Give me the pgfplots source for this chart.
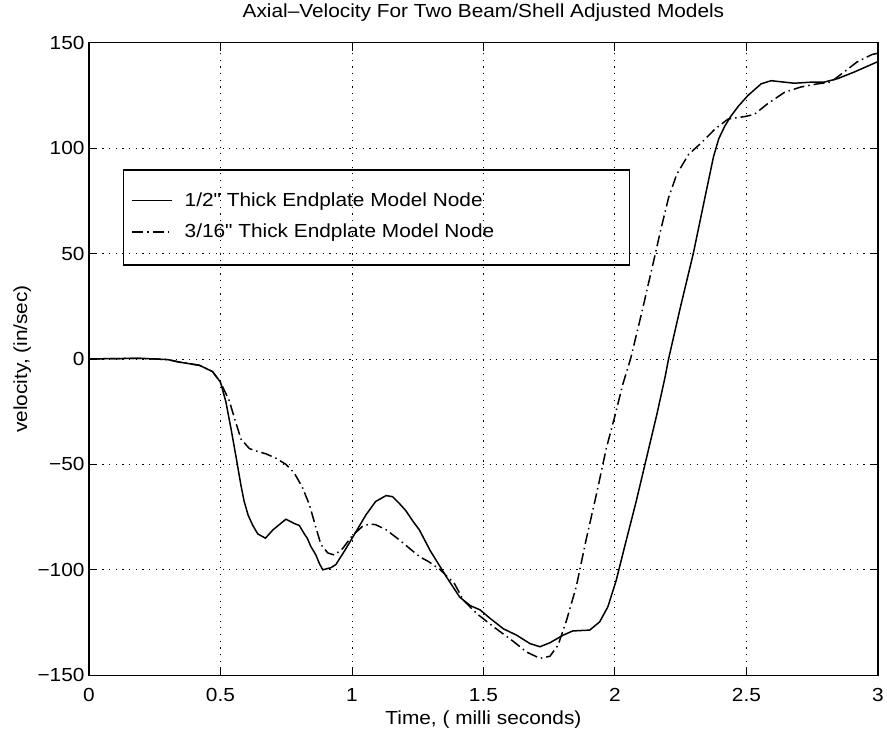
\documentclass[border=0pt]{standalone}
\usepackage{pgfplots}
\pgfplotsset{compat=1.18}
\usepackage{fontspec}
\setmainfont{Liberation Sans}[FakeStretch=1.1]
\newfontfamily\plainfont{Liberation Sans}[FakeStretch=1.1]

\pgfplotstableread{
x y
0 0
0.1 0.2
0.2 0.3
0.3 -0.3
0.344 -1.5
0.42 -3
0.47 -6
0.5 -11
0.52 -20
0.54 -33
0.56 -47
0.578 -60
0.59 -67.5
0.605 -74
0.623 -79
0.642 -83
0.671 -85
0.70 -81
0.749 -76
0.78 -78
0.80 -79
0.819 -83
0.83 -85
0.844 -89
0.863 -93
0.876 -97
0.889 -100
0.92 -99
0.939 -97.5
0.977 -90
1.015 -82
1.053 -74
1.09 -67.6
1.13 -64.8
1.154 -65.3
1.18 -68.5
1.205 -72
1.235 -77.5
1.256 -81
1.298 -91
1.36 -103.5
1.41 -113
1.45 -117
1.487 -119
1.525 -123
1.576 -128
1.626 -131
1.677 -135
1.715 -136.5
1.753 -134.6
1.803 -131
1.84 -129
1.904 -128.6
1.942 -124.7
1.973 -117.6
2.005 -105
2.037 -89
2.08 -68
2.12 -47
2.16 -26
2.19 -9
2.204 0
2.248 24
2.298 50
2.343 77
2.375 96
2.395 104.5
2.418 110.5
2.44 115
2.47 120
2.506 125
2.556 130.5
2.594 132
2.645 131.3
2.682 130.8
2.745 131.3
2.795 131.3
2.845 132.9
2.908 136
2.99 140.5
3.0 141
}\solid

\pgfplotstableread{
x y
0 0
0.1 0.2
0.2 0.3
0.3 -0.3
0.344 -1.5
0.42 -3
0.47 -6
0.5 -11
0.534 -20
0.553 -28
0.578 -38
0.61 -42.5
0.635 -43.6
0.673 -45
0.71 -47
0.749 -50
0.78 -54
0.81 -60.5
0.838 -69
0.863 -80
0.882 -88
0.908 -92
0.933 -93
0.964 -90
1.0 -84
1.04 -79.4
1.066 -78.3
1.09 -78.6
1.13 -81
1.18 -85.8
1.23 -91
1.26 -94
1.29 -96
1.336 -100
1.39 -106.6
1.424 -114.5
1.475 -120.8
1.538 -127
1.614 -134
1.664 -139
1.715 -142
1.753 -141
1.784 -135.7
1.816 -124
1.853 -108
1.89 -86
1.93 -64
1.967 -42.5
2.0 -27
2.03 -12
2.06 0.3
2.103 22.5
2.147 46.3
2.173 60.6
2.204 76.5
2.235 87.6
2.28 97
2.33 102.7
2.38 109
2.43 113.8
2.494 115
2.53 116
2.58 121
2.645 126.5
2.707 129
2.77 130.5
2.82 131.3
2.87 136
2.92 140.8
2.977 144.4
3.0 145
}\dashdot

\begin{document}
\begin{tikzpicture}[font=\fontsize{19}{22}\selectfont]
\begin{axis}[
  scale only axis, width=791.7pt, height=634.7pt,
  at={(0,0)}, anchor=south west,
  xmin=0, xmax=3, ymin=-150, ymax=150,
  xtick={0,0.5,1,1.5,2,2.5,3},
  xticklabels={0,0.5,1,1.5,2,2.5,3},
  ytick={-150,-100,-50,0,50,100,150},
  yticklabels={−150,−100,−50,0,50,100,150},
  /pgf/number format/assume math mode=true,
  tick align=inside, tick pos=both, major tick length=8pt,
  grid=major,
  major grid style={black, line width=0.9pt, dash pattern=on 1.2pt off 5.5pt},
  axis line style={black, line width=1.4pt},
  every tick/.style={black, line width=0.9pt},
  xticklabel style={anchor=base, yshift=-26pt},
  yticklabel style={anchor=east, xshift=-1pt},
  title={Axial–Velocity For Two Beam/Shell Adjusted Models},
  title style={at={(axis description cs:0.5,1.0312)}, anchor=base},
  xlabel={Time, ( milli seconds)},
  xlabel style={at={(axis description cs:0.5,-0.0772)}, anchor=base},
  ylabel={velocity, (in/sec)},
  ylabel style={at={(axis description cs:-0.0846,0.5)}, anchor=center},
  legend style={draw=none, fill=none, inner sep=0pt, row sep=10pt, column sep=9pt,
    at={(rel axis cs:0.0535,0.7673)}, anchor=north west,
    nodes={inner sep=3pt}},
  legend cell align=left,
  legend image code/.code={\draw[#1] (0pt,0pt) -- (40pt,0pt);},
]
\addplot[black, line width=1.5pt] table {\solid};
\addlegendentry{{\plainfont 1/2" Thick Endplate Model Node}}
\addplot[black, line width=1.5pt, dash pattern=on 11pt off 4pt on 1.5pt off 4pt] table {\dashdot};
\addlegendentry{{\plainfont 3/16" Thick Endplate Model Node}}
\draw[black, line width=1.4pt] (rel axis cs:0.0438,0.799) rectangle (rel axis cs:0.6855,0.6485);
\end{axis}
\path[use as bounding box] (-89.3pt,-59pt) rectangle (797.7pt,674pt);
\end{tikzpicture}
\end{document}
